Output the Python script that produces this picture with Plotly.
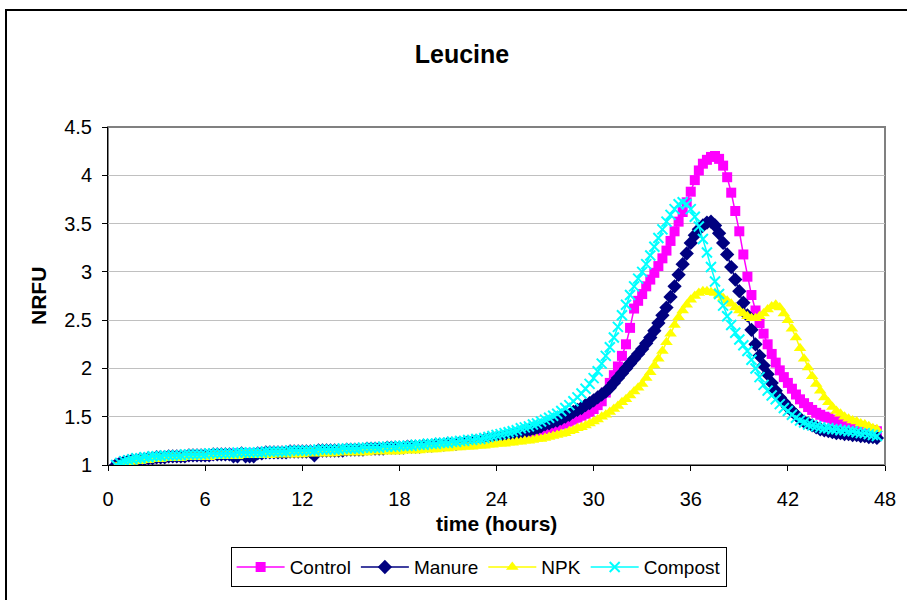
import plotly.graph_objects as go

# Sampling times (hours), every 15 minutes from 0.5 h to 47.5 h
hours = [0.5 + 0.25 * i for i in range(189)]

control = [
    1.00, 1.02, 1.03, 1.04, 1.05, 1.05, 1.06, 1.06,
    1.07, 1.07, 1.08, 1.08, 1.08, 1.09, 1.09, 1.09,
    1.09, 1.09, 1.10, 1.10, 1.10, 1.10, 1.10, 1.10,
    1.11, 1.11, 1.11, 1.11, 1.11, 1.12, 1.12, 1.12,
    1.12, 1.12, 1.12, 1.12, 1.13, 1.13, 1.13, 1.13,
    1.13, 1.13, 1.13, 1.14, 1.14, 1.14, 1.14, 1.14,
    1.14, 1.14, 1.15, 1.15, 1.15, 1.15, 1.15, 1.15,
    1.15, 1.16, 1.16, 1.16, 1.16, 1.16, 1.16, 1.17,
    1.17, 1.17, 1.17, 1.17, 1.18, 1.18, 1.18, 1.18,
    1.18, 1.19, 1.19, 1.19, 1.19, 1.20, 1.20, 1.20,
    1.21, 1.21, 1.21, 1.22, 1.22, 1.22, 1.23, 1.23,
    1.24, 1.24, 1.25, 1.25, 1.26, 1.27, 1.27,
    1.28, 1.28, 1.29, 1.29, 1.30, 1.31, 1.32, 1.33,
    1.34, 1.35, 1.36, 1.37, 1.38, 1.39, 1.40, 1.42,
    1.43, 1.45, 1.47, 1.49, 1.51, 1.53, 1.55, 1.58,
    1.62, 1.66, 1.75, 1.85, 1.93, 2.02, 2.13, 2.25,
    2.42, 2.62, 2.70, 2.77, 2.85, 2.92, 2.99, 3.06,
    3.14, 3.22, 3.32, 3.42, 3.52, 3.62, 3.72, 3.83,
    3.95, 4.05, 4.12, 4.16, 4.19, 4.20, 4.17, 4.10,
    3.98, 3.82, 3.63, 3.42, 3.18, 2.95, 2.76, 2.60,
    2.47, 2.36, 2.25, 2.15, 2.06, 1.98, 1.91, 1.85,
    1.79, 1.73, 1.68, 1.64, 1.60, 1.57, 1.54, 1.52,
    1.50, 1.49, 1.47, 1.46, 1.45, 1.44, 1.43, 1.42,
    1.41, 1.40, 1.38, 1.37, 1.36, 1.35,
]

manure = [
    1.00, 1.02, 1.03, 1.04, 1.05, 1.05, 1.06, 1.06,
    1.07, 1.07, 1.08, 1.08, 1.08, 1.09, 1.09, 1.09,
    1.09, 1.09, 1.10, 1.10, 1.10, 1.10, 1.10, 1.10,
    1.11, 1.11, 1.11, 1.11, 1.11, 1.09, 1.09, 1.12,
    1.09, 1.09, 1.09, 1.12, 1.12, 1.13, 1.13, 1.13,
    1.13, 1.13, 1.13, 1.14, 1.14, 1.14, 1.14, 1.14,
    1.14, 1.10, 1.15, 1.15, 1.15, 1.15, 1.15, 1.15,
    1.15, 1.16, 1.16, 1.16, 1.16, 1.16, 1.17, 1.17,
    1.17, 1.17, 1.17, 1.18, 1.18, 1.18, 1.18, 1.18,
    1.19, 1.19, 1.19, 1.19, 1.20, 1.20, 1.20, 1.21,
    1.21, 1.21, 1.22, 1.22, 1.22, 1.23, 1.23, 1.24,
    1.24, 1.25, 1.25, 1.26, 1.27, 1.27, 1.28,
    1.28, 1.29, 1.30, 1.31, 1.32, 1.33, 1.34, 1.36,
    1.37, 1.38, 1.40, 1.42, 1.43, 1.45, 1.46, 1.48,
    1.50, 1.52, 1.55, 1.57, 1.59, 1.62, 1.64, 1.67,
    1.70, 1.73, 1.76, 1.80, 1.85, 1.90, 1.95, 2.00,
    2.05, 2.10, 2.15, 2.20, 2.26, 2.32, 2.39, 2.47,
    2.55, 2.63, 2.74, 2.85, 2.97, 3.08, 3.19, 3.30,
    3.38, 3.44, 3.48, 3.51, 3.52, 3.48, 3.40, 3.30,
    3.18, 3.05, 2.92, 2.80, 2.68, 2.55, 2.40, 2.25,
    2.13, 2.03, 1.94, 1.85, 1.77, 1.70, 1.65, 1.60,
    1.56, 1.52, 1.48, 1.45, 1.43, 1.41, 1.39, 1.37,
    1.36, 1.35, 1.34, 1.33, 1.33, 1.32, 1.32, 1.31,
    1.31, 1.30, 1.30, 1.29, 1.29, 1.28,
]

npk = [
    0.98, 1.00, 1.01, 1.02, 1.03, 1.04, 1.04, 1.05,
    1.05, 1.06, 1.06, 1.06, 1.07, 1.07, 1.07, 1.07,
    1.07, 1.08, 1.08, 1.08, 1.08, 1.08, 1.08, 1.08,
    1.09, 1.09, 1.09, 1.09, 1.09, 1.09, 1.09, 1.10,
    1.10, 1.10, 1.10, 1.10, 1.10, 1.10, 1.10, 1.11,
    1.11, 1.11, 1.11, 1.11, 1.11, 1.11, 1.11, 1.12,
    1.12, 1.12, 1.12, 1.12, 1.12, 1.12, 1.12, 1.13,
    1.13, 1.13, 1.13, 1.13, 1.13, 1.13, 1.13, 1.14,
    1.14, 1.14, 1.14, 1.14, 1.14, 1.14, 1.14, 1.15,
    1.15, 1.15, 1.15, 1.15, 1.16, 1.16, 1.16, 1.16,
    1.17, 1.17, 1.17, 1.18, 1.18, 1.18, 1.19, 1.19,
    1.19, 1.20, 1.20, 1.20, 1.21, 1.21, 1.22,
    1.22, 1.22, 1.23, 1.23, 1.24, 1.24, 1.25, 1.25,
    1.26, 1.27, 1.27, 1.28, 1.29, 1.30, 1.31, 1.32,
    1.33, 1.35, 1.36, 1.38, 1.39, 1.41, 1.43, 1.45,
    1.47, 1.50, 1.52, 1.55, 1.58, 1.61, 1.65, 1.68,
    1.72, 1.76, 1.80, 1.84, 1.90, 1.96, 2.03, 2.10,
    2.18, 2.27, 2.36, 2.45, 2.53, 2.60, 2.66, 2.71,
    2.75, 2.78, 2.80, 2.80, 2.79, 2.78, 2.76, 2.73,
    2.70, 2.67, 2.63, 2.60, 2.57, 2.54, 2.52, 2.52,
    2.54, 2.57, 2.61, 2.64, 2.66, 2.63, 2.57, 2.50,
    2.41, 2.32, 2.21, 2.10, 2.01, 1.92, 1.84, 1.77,
    1.70, 1.65, 1.60, 1.56, 1.53, 1.50, 1.48, 1.46,
    1.45, 1.43, 1.42, 1.40, 1.38, 1.37,
]

compost = [
    1.00, 1.02, 1.04, 1.05, 1.06, 1.07, 1.07, 1.08,
    1.08, 1.09, 1.09, 1.09, 1.10, 1.10, 1.10, 1.10,
    1.10, 1.11, 1.11, 1.11, 1.11, 1.11, 1.11, 1.12,
    1.12, 1.12, 1.12, 1.12, 1.12, 1.12, 1.13, 1.13,
    1.13, 1.13, 1.13, 1.13, 1.13, 1.14, 1.14, 1.14,
    1.14, 1.14, 1.14, 1.15, 1.15, 1.15, 1.15, 1.15,
    1.15, 1.15, 1.16, 1.16, 1.16, 1.16, 1.16, 1.16,
    1.17, 1.17, 1.17, 1.17, 1.17, 1.18, 1.18, 1.18,
    1.18, 1.18, 1.19, 1.19, 1.19, 1.19, 1.20, 1.20,
    1.20, 1.20, 1.21, 1.21, 1.21, 1.22, 1.22, 1.22,
    1.23, 1.23, 1.23, 1.24, 1.24, 1.25, 1.25, 1.26,
    1.26, 1.27, 1.27, 1.28, 1.29, 1.30, 1.31,
    1.32, 1.33, 1.34, 1.35, 1.36, 1.38, 1.39, 1.40,
    1.42, 1.43, 1.45, 1.47, 1.49, 1.51, 1.53, 1.56,
    1.59, 1.62, 1.66, 1.70, 1.74, 1.79, 1.84, 1.90,
    1.97, 2.05, 2.13, 2.22, 2.32, 2.43, 2.55, 2.66,
    2.76, 2.85, 2.93, 3.00, 3.08, 3.17, 3.26, 3.35,
    3.44, 3.52, 3.59, 3.65, 3.70, 3.72, 3.70, 3.65,
    3.57, 3.47, 3.34, 3.20, 3.05, 2.90, 2.77, 2.65,
    2.54, 2.45, 2.37, 2.30, 2.24, 2.18, 2.09, 2.00,
    1.91, 1.83, 1.77, 1.72, 1.68, 1.63, 1.59, 1.56,
    1.52, 1.49, 1.46, 1.44, 1.42, 1.41, 1.40, 1.39,
    1.38, 1.38, 1.37, 1.37, 1.36, 1.36, 1.35, 1.35,
    1.34, 1.33, 1.33, 1.32, 1.31, 1.30,
]

series_names = ["Control", "Manure", "NPK", "Compost"]
x_ticks = [0, 6, 12, 18, 24, 30, 36, 42, 48]
y_ticks = [1, 1.5, 2, 2.5, 3, 3.5, 4, 4.5]

FONT = "Liberation Sans, Arial, sans-serif"

styles = [
    dict(color="#FF00FF", symbol="square", size=10, lw=1.5),
    dict(color="#000080", symbol="diamond", size=11, lw=1.5),
    dict(color="#FFFF00", symbol="triangle-up", size=11, lw=1.5),
    dict(color="#00FFFF", symbol="x-thin", size=10, lw=1.5),
]

fig = go.Figure()
for name, values, st in zip(series_names, [control, manure, npk, compost], styles):
    marker = dict(symbol=st["symbol"], size=st["size"], color=st["color"])
    if st["symbol"] == "x-thin":
        marker["line"] = dict(color=st["color"], width=2)
    else:
        marker["line"] = dict(width=0)
    fig.add_trace(go.Scatter(
        x=hours, y=values, name=name, mode="lines+markers",
        line=dict(color=st["color"], width=st["lw"]),
        marker=marker,
    ))

fig.update_layout(
    width=907, height=600,
    margin=dict(l=108, r=22, t=127, b=135),
    paper_bgcolor="white", plot_bgcolor="white",
    font=dict(family=FONT, size=20, color="black"),
    showlegend=True,
    legend=dict(
        orientation="h", x=0.477, xanchor="center", y=-0.243, yanchor="top",
        bordercolor="black", borderwidth=1, bgcolor="white",
        font=dict(family=FONT, size=19, color="black"),
        itemwidth=48, tracegroupgap=0,
    ),
    title=dict(
        text="<b>Leucine</b>", x=462 / 907, xref="container", xanchor="center",
        y=1 - 54 / 600, yref="container", yanchor="middle",
        font=dict(family=FONT, size=25, color="black"),
    ),
)

fig.update_xaxes(
    range=[0, 48], tickvals=x_ticks, ticktext=[str(v) for v in x_ticks],
    showgrid=False, zeroline=False,
    showline=True, linecolor="black", linewidth=1,
    ticks="outside", ticklen=5, tickcolor="black", tickwidth=1,
    ticklabelstandoff=11,
    tickfont=dict(family=FONT, size=20, color="black"),
)
fig.update_yaxes(
    range=[1, 4.5], tickvals=y_ticks, ticktext=[f"{v:g}" for v in y_ticks],
    showgrid=True, gridcolor="#C0C0C0", gridwidth=1, zeroline=False,
    showline=True, linecolor="black", linewidth=1,
    ticks="outside", ticklen=5, tickcolor="black", tickwidth=1,
    ticklabelstandoff=6,
    tickfont=dict(family=FONT, size=20, color="black"),
)

# Plot-area frame (grey) and outer chart border
fig.add_shape(type="rect", xref="x domain", yref="y domain", x0=0, x1=1, y0=0, y1=1,
              line=dict(color="#808080", width=2), layer="below")
fig.add_shape(type="rect", xref="paper", yref="paper",
              x0=(6 - 108) / 777, x1=(912 - 108) / 777,
              y0=(465 - 610) / 338, y1=(465 - 10) / 338,
              line=dict(color="black", width=2), fillcolor="rgba(0,0,0,0)", layer="below")

fig.add_annotation(text="<b>time (hours)</b>", xref="paper", yref="paper",
                   x=0.5, y=(465 - 523) / 338, xanchor="center", yanchor="middle",
                   showarrow=False, font=dict(family=FONT, size=21, color="black"))
fig.add_annotation(text="<b>NRFU</b>", xref="paper", yref="paper",
                   x=(38 - 108) / 777, y=0.5, xanchor="center", yanchor="middle",
                   textangle=-90, showarrow=False,
                   font=dict(family=FONT, size=21, color="black"))

fig.write_html("out.html")
